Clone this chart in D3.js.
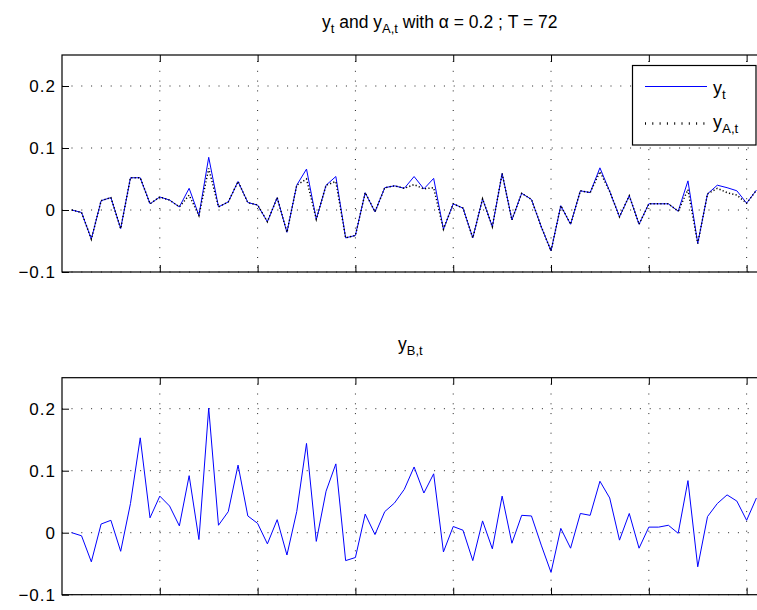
<!DOCTYPE html>
<html>
<head>
<meta charset="utf-8">
<script src="https://cdn.jsdelivr.net/npm/d3@7"></script>
<style>
	body { margin: 0; background: #fff; }
	text { font-family: "Liberation Sans", Arial, Helvetica, sans-serif; }
</style>
</head>
<body>
<div class="chart"></div>
<script>
// two stacked panels, matlab look

var w = 757, h = 610;

// series, t = 1..71 (T = 72, last point falls off the picture)
var yt = [0, -0.004, -0.047, 0.015, 0.020, -0.030, 0.052, 0.052, 0.010, 0.021,
	0.016, 0.005, 0.035, -0.009, 0.085, 0.005, 0.013, 0.046, 0.012, 0.008,
	-0.019, 0.020, -0.036, 0.040, 0.066, -0.015, 0.040, 0.054, -0.045, -0.041,
	0.028, -0.003, 0.036, 0.039, 0.035, 0.054, 0.034, 0.051, -0.031, 0.010,
	0.003, -0.045, 0.018, -0.027, 0.059, -0.016, 0.027, 0.017, -0.027, -0.066,
	0.007, -0.023, 0.031, 0.028, 0.068, 0.030, -0.011, 0.023, -0.023, 0.010,
	0.010, 0.010, -0.002, 0.047, -0.054, 0.026, 0.040, 0.036, 0.031, 0.011, 0.032];

var yA = [0, -0.004, -0.047, 0.015, 0.020, -0.030, 0.052, 0.052, 0.010, 0.021,
	0.016, 0.005, 0.024, -0.009, 0.067, 0.005, 0.013, 0.046, 0.012, 0.008,
	-0.019, 0.020, -0.036, 0.040, 0.050, -0.015, 0.040, 0.046, -0.045, -0.041,
	0.028, -0.003, 0.036, 0.039, 0.035, 0.041, 0.034, 0.036, -0.031, 0.010,
	0.003, -0.045, 0.018, -0.027, 0.059, -0.016, 0.027, 0.017, -0.027, -0.066,
	0.007, -0.023, 0.031, 0.028, 0.062, 0.030, -0.011, 0.023, -0.023, 0.010,
	0.010, 0.010, -0.002, 0.033, -0.054, 0.026, 0.035, 0.028, 0.024, 0.011, 0.032];

var yB = [0, -0.005, -0.047, 0.014, 0.020, -0.030, 0.047, 0.153, 0.024, 0.059,
	0.043, 0.011, 0.092, -0.011, 0.201, 0.012, 0.034, 0.109, 0.027, 0.015,
	-0.018, 0.021, -0.036, 0.034, 0.144, -0.014, 0.067, 0.111, -0.045, -0.040,
	0.030, -0.003, 0.034, 0.048, 0.070, 0.106, 0.064, 0.095, -0.031, 0.010,
	0.004, -0.045, 0.019, -0.026, 0.059, -0.017, 0.028, 0.027, -0.020, -0.064,
	0.007, -0.025, 0.031, 0.028, 0.083, 0.056, -0.012, 0.031, -0.025, 0.009,
	0.009, 0.012, -0.001, 0.084, -0.055, 0.026, 0.047, 0.061, 0.051, 0.020, 0.056];

var xTicks = [10, 20, 30, 40, 50, 60, 70],
	yTicks = [-0.1, 0, 0.1, 0.2],
	yTickLabels = ['\u22120.1', '0', '0.1', '0.2'];

var T = 72;

var svg = d3.select('.chart').append('svg')
	.attr('width', w)
	.attr('height', h)
	.style('display', 'block');

// axes area runs past the right edge, the picture is cropped there
var x = d3.scaleLinear().domain([0, T]).range([62, 766.2]);

function panel(top, bottom) {
	var y = d3.scaleLinear().domain([-0.1, 0.25]).range([bottom, top]);
	var g = svg.append('g');

	// dotted grid
	g.selectAll('.hgrid')
		.data(yTicks)
		.enter().append('line')
		.attr('x1', x.range()[0]).attr('x2', x.range()[1])
		.attr('y1', function(d) { return y(d); })
		.attr('y2', function(d) { return y(d); })
		.attr('stroke', '#222')
		.attr('stroke-width', 1)
		.attr('stroke-dasharray', '1,8.8')
		.attr('stroke-dashoffset', -9.5);
	g.selectAll('.vgrid')
		.data(xTicks)
		.enter().append('line')
		.attr('y1', top).attr('y2', bottom)
		.attr('x1', function(d) { return x(d); })
		.attr('x2', function(d) { return x(d); })
		.attr('stroke', '#222')
		.attr('stroke-width', 1)
		.attr('stroke-dasharray', '1,8.8')
		.attr('stroke-dashoffset', -6);

	// box
	g.append('rect')
		.attr('x', x.range()[0])
		.attr('y', top)
		.attr('width', x.range()[1] - x.range()[0])
		.attr('height', bottom - top)
		.attr('fill', 'none')
		.attr('stroke', '#000')
		.attr('stroke-width', 1.2);

	// inward ticks
	var ax = [
		[d3.axisBottom(x), 0, bottom],
		[d3.axisTop(x), 0, top]
	];
	ax.forEach(function(a) {
		var s = g.append('g')
			.attr('transform', 'translate(' + [a[1], a[2]] + ')')
			.call(a[0].tickValues(xTicks).tickSizeInner(-7).tickSizeOuter(0).tickFormat(''));
		s.select('.domain').remove();
		s.selectAll('line').attr('stroke', '#000');
	});

	var ya = g.append('g')
		.attr('transform', 'translate(' + x.range()[0] + ',0)')
		.call(d3.axisLeft(y)
			.tickValues(yTicks)
			.tickSizeInner(-7)
			.tickSizeOuter(0)
			.tickPadding(6)
			.tickFormat(function(d, i) { return yTickLabels[i]; }));
	ya.select('.domain').remove();
	ya.selectAll('line').attr('stroke', '#000');
	ya.selectAll('text')
		.attr('font-size', 17)
		.attr('letter-spacing', 1)
		.attr('font-family', '"Liberation Sans", Arial, sans-serif')
		.attr('fill', '#000');

	return y;
}

function subText(sel, main, sub, size) {
	sel.append('tspan').text(main);
	sel.append('tspan').attr('font-size', size * 0.74).attr('dy', 5).text(sub);
}

var line = function(y, arr) {
	return d3.line()
		.x(function(d, i) { return x(i + 1); })
		.y(function(d) { return y(d); })(arr);
};

// top panel
var y1 = panel(55, 272);

svg.append('path')
	.attr('d', line(y1, yt))
	.attr('fill', 'none')
	.attr('stroke', '#0000ff')
	.attr('stroke-width', 1);

svg.append('path')
	.attr('d', line(y1, yA))
	.attr('fill', 'none')
	.attr('stroke', '#000')
	.attr('stroke-width', 1.5)
	.attr('stroke-dasharray', '1.2,2.2');

var t1 = svg.append('text')
	.attr('x', 322)
	.attr('y', 28)
	.attr('font-size', 17.5)
	.attr('fill', '#000');
t1.append('tspan').text('y');
t1.append('tspan').attr('font-size', 13).attr('dy', 5).text('t');
t1.append('tspan').attr('dy', -5).text(' and y');
t1.append('tspan').attr('font-size', 13).attr('dy', 5).text('A,t');
t1.append('tspan').attr('dy', -5).text(' with \u03b1 = 0.2 ; T = 72');

// legend
var lg = svg.append('g');
lg.append('rect')
	.attr('x', 632.5).attr('y', 65.5)
	.attr('width', 123.5).attr('height', 79.5)
	.attr('fill', '#fff')
	.attr('stroke', '#000')
	.attr('stroke-width', 1.2);
lg.append('line')
	.attr('x1', 645).attr('x2', 707)
	.attr('y1', 86.5).attr('y2', 86.5)
	.attr('stroke', '#0000ff');
lg.append('line')
	.attr('x1', 645).attr('x2', 707)
	.attr('y1', 123.5).attr('y2', 123.5)
	.attr('stroke', '#000')
	.attr('stroke-width', 2.5)
	.attr('stroke-dasharray', '1,6.3');
subText(lg.append('text').attr('x', 713).attr('y', 94).attr('font-size', 18), 'y', 't', 18);
subText(lg.append('text').attr('x', 713).attr('y', 128).attr('font-size', 18), 'y', 'A,t', 18);

// bottom panel
var y2 = panel(377.7, 594.7);

svg.append('path')
	.attr('d', line(y2, yB))
	.attr('fill', 'none')
	.attr('stroke', '#0000ff')
	.attr('stroke-width', 1);

var t2 = svg.append('text')
	.attr('x', 398)
	.attr('y', 350)
	.attr('font-size', 17.5)
	.attr('fill', '#000');
subText(t2, 'y', 'B,t', 17.5);
</script>
</body>
</html>
